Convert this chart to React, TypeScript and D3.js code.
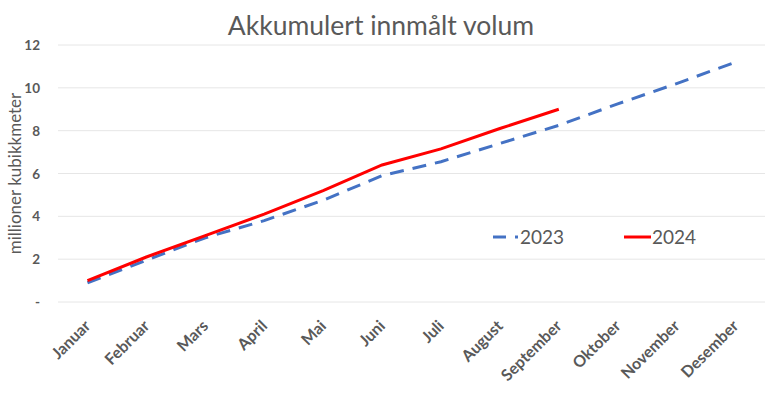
import React from "react";
import * as d3 from "d3";

const months = ["Januar","Februar","Mars","April","Mai","Juni","Juli","August","September","Oktober","November","Desember"];
const values2023 = [0.9, 1.95, 3.0, 3.8, 4.75, 5.9, 6.55, 7.4, 8.25, 9.25, 10.2, 11.2];
const values2024 = [1.0, 2.1, 3.1, 4.1, 5.2, 6.4, 7.15, 8.1, 9.0];
const yTicks = [0, 2, 4, 6, 8, 10, 12];

const W = 768, H = 394;
const FONT = "Lato, 'Open Sans', sans-serif";

export default function App() {
  const x = d3.scaleBand<string>().domain(months).range([58, 765]);
  const y = d3.scaleLinear().domain([0, 12]).range([302, 45]);
  const cx = (m: string) => (x(m) as number) + x.bandwidth() / 2;
  const line = d3.line<number>().x((_, i) => cx(months[i])).y(d => y(d));
  return (
    <svg width={W} height={H} style={{ position: "absolute", left: 0, top: 0, background: "#fff" }} fontFamily={FONT}>
      <text x={381} y={35} textAnchor="middle" fontSize={26.5} fill="#595959">Akkumulert innmålt volum</text>
      {yTicks.map(t => (
        <g key={t}>
          <line x1={58} x2={765} y1={y(t)} y2={y(t)} stroke="#e6e6e6" strokeWidth={1} />
          <text x={40} y={y(t) + 5} textAnchor="end" fontSize={13.5} fontWeight="bold" fill="#595959">{t === 0 ? "-" : t}</text>
        </g>
      ))}
      <text transform={`translate(21,${y(6)}) rotate(-90)`} textAnchor="middle" fontSize={17} fill="#595959">millioner kubikkmeter</text>
      {months.map(m => (
        <text key={m} transform={`translate(${cx(m) + 4},${327}) rotate(-45)`} textAnchor="end" fontSize={16} fontWeight="bold" fill="#595959">{m}</text>
      ))}
      <path d={line(values2023) || ""} fill="none" stroke="#4472C4" strokeWidth={3} strokeDasharray="14,9" />
      <path d={line(values2024) || ""} fill="none" stroke="#FF0000" strokeWidth={3} />
      <line x1={493} x2={506} y1={237} y2={237} stroke="#4472C4" strokeWidth={3} />
      <line x1={515} x2={518} y1={237} y2={237} stroke="#4472C4" strokeWidth={3} />
      <text x={520} y={244} fontSize={19} fill="#595959">2023</text>
      <line x1={624} x2={651} y1={237} y2={237} stroke="#FF0000" strokeWidth={3} />
      <text x={652} y={244} fontSize={19} fill="#595959">2024</text>
    </svg>
  );
}
